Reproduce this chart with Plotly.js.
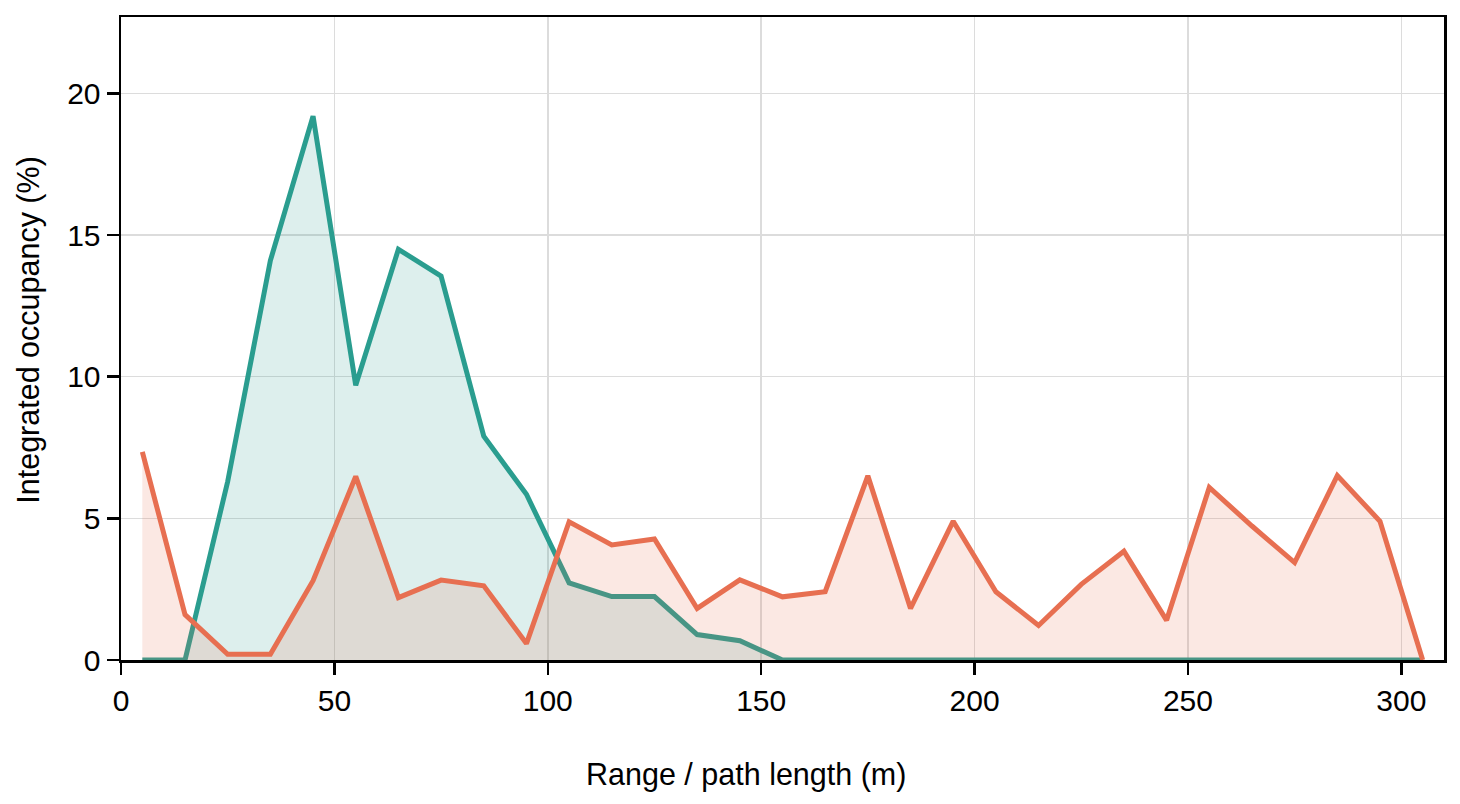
<!DOCTYPE html>
<html>
<head>
<meta charset="utf-8">
<script src="https://cdn.plot.ly/plotly-3.0.1.min.js"></script>
<style>
    html, body { margin: 0; padding: 0; background: #fff; }
    #chart { width: 1460px; height: 804px; }
</style>
</head>
<body>
<div id="chart"></div>
<script>
    // range bins (m)
    const rangeBins = [5, 15, 25, 35, 45, 55, 65, 75, 85, 95, 105, 115, 125, 135, 145, 155,
        165, 175, 185, 195, 205, 215, 225, 235, 245, 255, 265, 275, 285, 295, 305]

    // occupancy per bin (%)
    const tealOccupancy = [0, 0, 6.3, 14.1, 19.2, 9.7, 14.5, 13.55, 7.9, 5.85, 2.72, 2.24, 2.24, 0.9, 0.68, 0,
        0, 0, 0, 0, 0, 0, 0, 0, 0, 0, 0, 0, 0, 0, 0]
    const orangeOccupancy = [7.35, 1.6, 0.2, 0.2, 2.8, 6.48, 2.2, 2.82, 2.62, 0.58, 4.88, 4.06, 4.27, 1.82, 2.83, 2.23,
        2.41, 6.5, 1.82, 4.9, 2.41, 1.22, 2.67, 3.84, 1.4, 6.09, 4.73, 3.44, 6.51, 4.9, 0]

    const xTicks = [0, 50, 100, 150, 200, 250, 300]
    const yTicks = [0, 5, 10, 15, 20]

    const xTitle = 'Range / path length (m)'
    const yTitle = 'Integrated occupancy (%)'

    const fontFamily = 'Arial, "Liberation Sans", sans-serif'

    const makeTrace = (y, color, fill) => ({
        x: rangeBins,
        y: y,
        type: 'scatter',
        mode: 'lines',
        fill: 'tozeroy',
        fillcolor: fill,
        line: {color: color, width: 5},
        hoverinfo: 'skip'
    })

    const data = [
        makeTrace(tealOccupancy, '#2a9d8f', 'rgba(42,157,143,0.16)'),
        makeTrace(orangeOccupancy, '#e76f51', 'rgba(231,111,81,0.16)')
    ]

    const axisCommon = {
        showline: true,
        linecolor: '#000',
        linewidth: 2.5,
        mirror: true,
        ticks: 'outside',
        ticklen: 12,
        tickwidth: 2.5,
        tickcolor: '#000',
        showgrid: true,
        gridcolor: '#dcdcdc',
        gridwidth: 1.5,
        zeroline: false,
        fixedrange: true,
        tickfont: {family: fontFamily, size: 30, color: '#000'}
    }

    // titles sit a bit off the axes centre in the original, so place them as annotations
    const titleFont = {family: fontFamily, size: 30.5, color: '#000'}

    const layout = {
        width: 1460,
        height: 804,
        showlegend: false,
        hovermode: false,
        paper_bgcolor: '#fff',
        plot_bgcolor: '#fff',
        margin: {l: 121, r: 16, t: 17, b: 144},
        xaxis: Object.assign({}, axisCommon, {range: [0, 310], tickvals: xTicks}),
        yaxis: Object.assign({}, axisCommon, {range: [0, 22.7], tickvals: yTicks}),
        annotations: [
            {text: xTitle, xref: 'paper', yref: 'paper', x: 0.4725, y: -0.1775,
                xanchor: 'center', yanchor: 'middle', showarrow: false, font: titleFont},
            {text: yTitle, xref: 'paper', yref: 'paper', x: -0.0705, y: 0.5132, textangle: -90,
                xanchor: 'center', yanchor: 'middle', showarrow: false, font: titleFont}
        ]
    }

    Plotly.newPlot('chart', data, layout, {displayModeBar: false, staticPlot: true})
</script>
</body>
</html>
